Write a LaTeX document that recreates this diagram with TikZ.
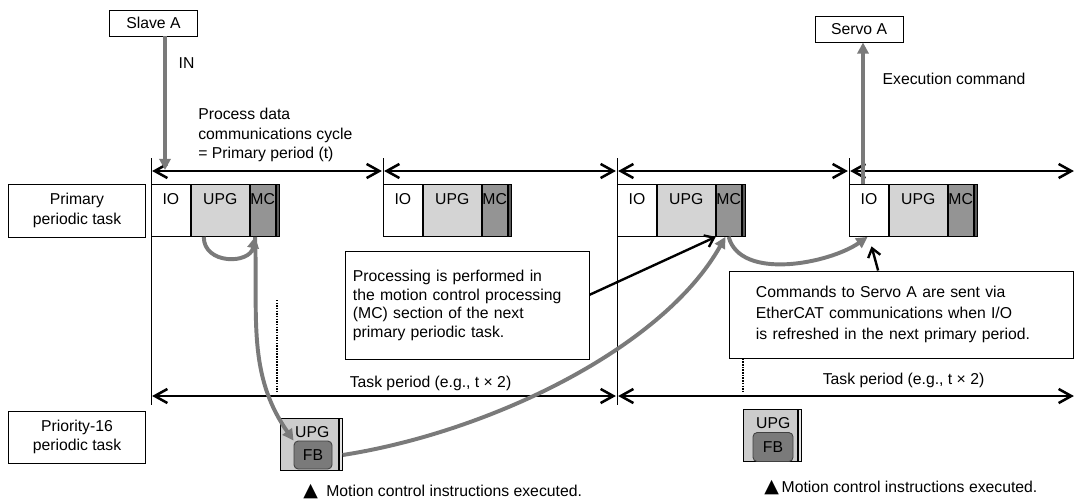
\documentclass[tikz,border=0pt]{standalone}
\usepackage{fontspec}
\setmainfont{Liberation Sans}
\newfontfamily\symfont{DejaVu Sans}
\usepackage{tikz}
\usetikzlibrary{arrows.meta}
\tikzset{
  font=\fontsize{11.2}{14}\selectfont,       % Arial-like text everywhere
  txt/.style       = {inner sep=0pt},
  tagbox/.style    = {draw, fill=white, line width=0.7pt, inner sep=0pt, align=center},
  celltag/.style   = {anchor=north, inner sep=0pt, yshift=-6.6pt},
  cellbase/.style  = {draw, line width=0.6pt, anchor=north west, inner sep=0pt,
                      minimum height=1.3cm},
  iocell/.style    = {cellbase, fill=white,    minimum width=0.975cm, label={[celltag]north:IO}},
  upgcell/.style   = {cellbase, fill=black!17, minimum width=1.45cm,  label={[celltag]north:UPG}},
  mccell/.style    = {cellbase, fill=black!42, minimum width=0.625cm, label={[celltag]north:MC}},
  stripcell/.style = {cellbase, fill=black!65, minimum width=0.075cm},
  prbox/.style     = {cellbase, fill=black!20,
                      label={[celltag, xshift=2pt, yshift=0.8pt]north:UPG}},
  fbbox/.style     = {draw=black!75, fill=black!52, rounded corners=3pt,
                      line width=0.6pt, inner sep=0pt},
  note/.style      = {draw, line width=0.7pt, fill=white, align=left},
  footnote/.style  = {txt, anchor=west},
  rule/.style      = {line width=0.6pt},
  dotline/.style   = {line width=1.5pt, dash pattern=on 1pt off 0.9pt},
  period/.style    = {line width=1.8pt, shorten <=0.8pt, shorten >=0.8pt,
                      {Straight Barb[length=9pt,width=10pt]}-{Straight Barb[length=9pt,width=10pt]}},
  pointer/.style   = {line width=1.7pt, -{Straight Barb[length=6pt,width=9pt]}},
  flow/.style      = {draw=black!52, line width=2.8pt, -{Triangle[length=8pt,width=8pt]}}
}
\newcommand{\tri}{{\symfont\fontsize{13.5}{14}\selectfont ▲}}
\begin{document}
\begin{tikzpicture}[x=0.025cm, y=-0.025cm]
  \useasboundingbox (0,0) rectangle (1075,501);

  % time grid
  \draw[rule] (151,158) -- (151,405);
  \draw[rule] (617,158) -- (617,405);
  \draw[rule] (383,158) -- (383,184);
  \draw[rule] (849,158) -- (849,184);
  \draw[dotline] (277,300) -- (277,392);
  \draw[dotline] (743,300) -- (743,392);

  % devices and row labels
  \node[tagbox, minimum width=2.175cm, minimum height=0.65cm] (slave) at (153.5,23) {Slave A};
  \node[tagbox, minimum width=2.2cm, minimum height=0.65cm] (servo) at (859,29) {Servo A};
  \node[tagbox, minimum width=3.4cm, minimum height=1.325cm] (primary) at (77,210.5) {Primary\\periodic task};
  \node[tagbox, minimum width=3.4cm, minimum height=1.3cm] (prio) at (77,437) {Priority-16\\periodic task};

  % primary periods
  \foreach \bx [count=\i] in {151,383,617,849} {
    \node[iocell] (io\i) at (\bx,184) {};
    \node[upgcell] (upg\i) at (io\i.north east) {};
    \node[mccell] (mc\i) at (upg\i.north east) {};
    \node[stripcell] (strip\i) at (mc\i.north east) {};
  }

  % priority-16 task runs
  \node[prbox, minimum width=1.45cm] (pupg1) at (280,418) {};
  \node[stripcell, fill=black!10] (pstrip1) at (pupg1.north east) {};
  \node[fbbox, minimum width=0.95cm, minimum height=0.7cm] (fb1) at (313,455) {FB};
  \node[prbox, minimum width=1.35cm] (pupg2) at (743,409) {};
  \node[stripcell, fill=black!10] (pstrip2) at (pupg2.north east) {};
  \node[fbbox, minimum width=1.0cm, minimum height=0.725cm] (fb2) at (773,447) {FB};

  % periods
  \coordinate (c0) at (151,171);
  \coordinate (c1) at (383,171);
  \coordinate (c2) at (617,171);
  \coordinate (c3) at (849,171);
  \coordinate (c4) at (1075,171);
  \draw[period] (c0) -- (c1);
  \draw[period] (c1) -- (c2);
  \draw[period] (c2) -- (c3);
  \draw[period] (c3) -- (c4);
  \coordinate (t0) at (151,396);
  \coordinate (t1) at (617,396);
  \coordinate (t2) at (1075,396);
  \draw[period] (t0) -- (t1);
  \draw[period] (t1) -- (t2);

  % texts
  \node[txt] (in) at (186.5,63) {IN};
  \node[txt] (execcmd) at (954,79) {Execution command};
  \node[txt, anchor=west, align=left, font=\fontsize{11.2}{13.8}\selectfont] (cycle) at (198,135)
    {Process data\\communications cycle\\= Primary period (t)};
  \node[txt] (tp1) at (430.5,383) {Task period (e.g., t × 2)};
  \node[txt] (tp2) at (903.5,380) {Task period (e.g., t × 2)};
  \node[footnote] (mcx1) at (303,492) {\tri\hspace{6pt}Motion control instructions executed.};
  \node[footnote] (mcx2) at (764,488) {\tri\hspace{2pt}Motion control instructions executed.};

  % notes
  \node[note, text width=5.725cm, inner xsep=0.175cm, minimum height=2.7cm,
        font=\fontsize{11.2}{13.3}\selectfont] (note1) at (467.5,305.5)
    {Processing is performed in\\the motion control processing\\(MC) section of the next\\primary periodic task.};
  \node[note, text width=7.275cm, inner xsep=0.65cm, minimum height=2.175cm,
        font=\fontsize{11.2}{15}\selectfont] (note2) at (901.5,314.5)
    {Commands to Servo A are sent via\\EtherCAT communications when I/O\\is refreshed in the next primary period.};

  % data flow
  \coordinate (inx) at (165,170);
  \coordinate (cmd) at (863,184);
  \draw[flow] (slave.south -| inx) -- (inx);
  \draw[flow] (cmd) -- (servo.south -| cmd);
  \draw[flow] (upg1.-122) to[out=-90, in=-100, looseness=1.4] (mc1.-106);
  \draw[flow] (mc1.-106) to[out=-88, in=125] (fb1.north west);
  \draw[flow] (pstrip1.east |- fb1.east) .. controls (490,432) and (663,348) .. (mc3.-97);
  \draw[flow] (mc3.-90) to[out=-75, in=-145, looseness=0.85] (io4.-93);
  \draw[pointer] (note1.5) -- (mc3.south west);
  \draw[pointer, shorten >=7pt] (note2.118) -- (io4.south);
\end{tikzpicture}
\end{document}
